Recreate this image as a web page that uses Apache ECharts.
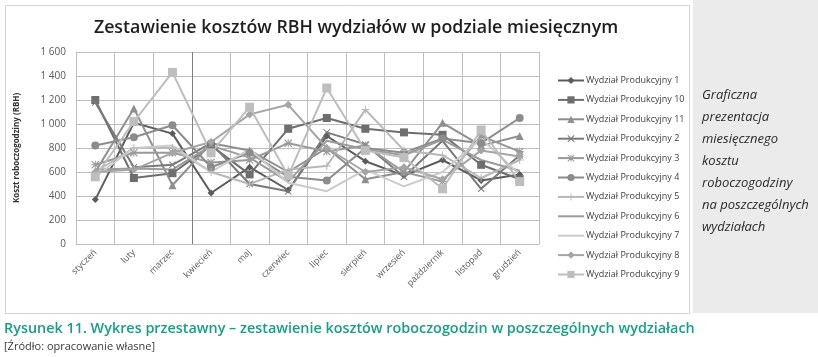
<!DOCTYPE html>
<html><head><meta charset="utf-8">
<script src="https://cdn.jsdelivr.net/npm/echarts@6/dist/echarts.min.js"></script>
<style>html,body{margin:0;padding:0;background:#fff}#c{width:818px;height:357px}</style>
</head><body><div id="c"></div>
<script>
const months = ['styczeń','luty','marzec','kwiecień','maj','czerwiec','lipiec','sierpień','wrzesień','październik','listopad','grudzień'];
const seriesNames = ['Wydział Produkcyjny 1','Wydział Produkcyjny 10','Wydział Produkcyjny 11','Wydział Produkcyjny 2','Wydział Produkcyjny 3','Wydział Produkcyjny 4','Wydział Produkcyjny 5','Wydział Produkcyjny 6','Wydział Produkcyjny 7','Wydział Produkcyjny 8','Wydział Produkcyjny 9'];
const wp1  = [370, 1010, 920, 425, 640, 450, 900, 690, 570, 700, 530, 580];
const wp10 = [1200, 550, 590, 820, 580, 960, 1050, 960, 930, 910, 660, 540];
const wp11 = [600, 1130, 490, 840, 780, 600, 800, 540, 600, 1010, 820, 900];
const wp2  = [1180, 640, 660, 840, 500, 440, 930, 830, 560, 860, 460, 740];
const wp3  = [660, 760, 760, 680, 700, 840, 770, 820, 600, 520, 900, 770];
const wp4  = [820, 890, 990, 640, 760, 560, 530, 800, 760, 880, 840, 1050];
const wp5  = [600, 800, 800, 600, 500, 620, 650, 1120, 780, 740, 550, 700];
const wp6  = [620, 630, 620, 820, 720, 520, 860, 790, 740, 870, 700, 610];
const wp7  = [560, 800, 820, 600, 790, 510, 440, 620, 480, 600, 880, 580];
const wp8  = [600, 620, 760, 850, 1080, 1160, 800, 600, 640, 540, 780, 730];
const wp9  = [560, 1020, 1430, 760, 1140, 570, 1300, 780, 720, 460, 950, 520];
const values = [wp1, wp10, wp11, wp2, wp3, wp4, wp5, wp6, wp7, wp8, wp9];
const title = 'Zestawienie kosztów RBH wydziałów w podziale miesięcznym';
const yName = 'Koszt roboczogodziny (RBH)';
const sideText = ['Graficzna','prezentacja','miesięcznego','kosztu','roboczogodziny','na poszczególnych','wydziałach'];
const caption = 'Rysunek 11. Wykres przestawny – zestawienie kosztów roboczogodzin w poszczególnych wydziałach';
const source = '[Źródło: opracowanie własne]';

const X = 'path://M1,0L5,4L9,0L10,1L6,5L10,9L9,10L5,6L1,10L0,9L4,5L0,1Z';
const PLUS = 'path://M4.4,0H5.6V4.4H10V5.6H5.6V10H4.4V5.6H0V4.4H4.4Z';
const AST = 'path://M4.4,0H5.6V10H4.4Z M0,4.4H10V5.6H0Z M1,0L5,4L9,0L10,1L6,5L10,9L9,10L5,6L1,10L0,9L4,5L0,1Z';
const LINEICON = 'path://M0,4H26V6H0Z';
const styles = [
  {c:'#5c5c5c', s:'diamond', z:7},
  {c:'#6e6e6e', s:'rect', z:8},
  {c:'#8f8f8f', s:'triangle', z:8},
  {c:'#7a7a7a', s:X, z:7},
  {c:'#999999', s:AST, z:8},
  {c:'#8c8c8c', s:'circle', z:8},
  {c:'#b8b8b8', s:PLUS, z:8},
  {c:'#9c9c9c', s:'none', z:0},
  {c:'#cbcbcb', s:'none', z:0},
  {c:'#a5a5a5', s:'diamond', z:8},
  {c:'#bebebe', s:'rect', z:9}
];

const series = values.map((v,i)=>({
  name: seriesNames[i], type:'line', data:v,
  symbol: styles[i].s, symbolSize: styles[i].z, showSymbol: styles[i].s!=='none',
  lineStyle:{color:styles[i].c, width:2},
  itemStyle:{color:styles[i].c},
  animation:false
}));

const legendData = seriesNames.map((n,i)=> styles[i].s==='none' ? {name:n, icon:LINEICON} : {name:n});

const gridColors = ['#bfbfbf','#bfbfbf','#bfbfbf','#7f7f7f','#bfbfbf','#bfbfbf','#bfbfbf','#bfbfbf','#bfbfbf','#bdbdbd','#bfbfbf','#bfbfbf','#bfbfbf'];

const chart = echarts.init(document.getElementById('c'), null, {renderer:'canvas'});
chart.setOption({
  animation:false,
  backgroundColor:'#fff',
  title:{text:title, left:351, textAlign:'center', top:14,
    textStyle:{fontFamily:'Open Sans', fontSize:17.8, fontWeight:600, color:'#1e1e1e'}},
  legend:{orient:'vertical', left:552, top:71, itemWidth:26, itemHeight:9, itemGap:10.4,
    data:legendData,
    textStyle:{fontFamily:'Open Sans', fontSize:9, color:'#404040', padding:[0,0,0,-3]}},
  grid:{left:76, right:279, top:52, bottom:113, containLabel:false},
  xAxis:{type:'category', data:months, boundaryGap:true,
    axisLine:{show:true, lineStyle:{color:'#bfbfbf'}},
    axisTick:{show:false},
    splitLine:{show:true, lineStyle:{color:gridColors, width:1}},
    axisLabel:{rotate:45, fontFamily:'Open Sans', fontSize:9, color:'#595959', margin:7, interval:0}},
  yAxis:{type:'value', min:0, max:1600, interval:200,
    name:yName, nameLocation:'middle', nameGap:55, nameRotate:90,
    nameTextStyle:{fontFamily:'Open Sans', fontSize:8, fontWeight:'bold', color:'#333'},
    axisLine:{show:true, lineStyle:{color:'#bfbfbf'}},
    axisTick:{show:false},
    splitLine:{lineStyle:{color:'#bfbfbf'}},
    axisLabel:{fontFamily:'Open Sans', fontSize:10, color:'#595959', margin:10,
      formatter:v=> v>=1000 ? Math.floor(v/1000)+' '+String(v%1000).padStart(3,'0') : String(v)}},
  graphic:[
    {type:'rect', shape:{x:5.5, y:5.5, width:684, height:308}, style:{fill:'none', stroke:'#d4d4d4', lineWidth:1}, z:-1},
    {type:'rect', shape:{x:693, y:0, width:125, height:313}, style:{fill:'#ebebeb'}, z:-1},
    ...sideText.map((t,i)=>({type:'text', left:702, top:89+i*22,
      style:{text:t, font:'italic 13px "Open Sans"', fill:'#2a2a2a'}})),
    {type:'text', left:4, top:322, style:{text:caption, font:'600 14.4px "Open Sans"', fill:'#17a085'}},
    {type:'text', left:4, top:341, style:{text:source, font:'11px "Open Sans"', fill:'#3a3a3a'}}
  ],
  series:series
});
</script></body></html>
